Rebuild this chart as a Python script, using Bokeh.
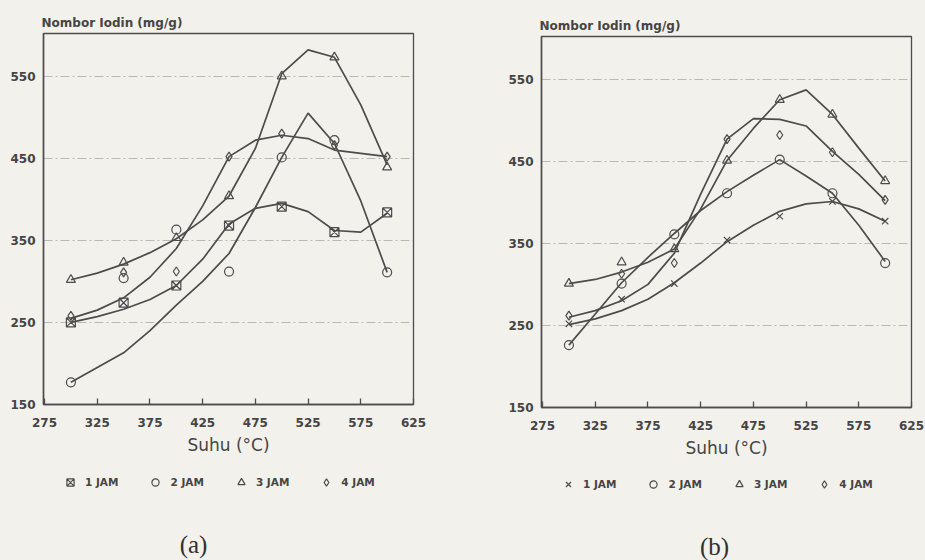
from bokeh.plotting import figure
from bokeh.layouts import row, column
from bokeh.models import Legend, LegendItem, Label, FixedTicker, Range1d
from bokeh.embed import file_html
from bokeh.resources import INLINE

# ---------------- data ----------------
temps = [300, 350, 400, 450, 500, 550, 600]
fit_temps = [300, 325, 350, 375, 400, 425, 450, 475, 500, 525, 550, 575, 600]
x_ticks = [275, 325, 375, 425, 475, 525, 575, 625]
y_ticks = [150, 250, 350, 450, 550]
grid_vals = [250, 350, 450, 550]
series_names = ["1 JAM", "2 JAM", "3 JAM", "4 JAM"]

# panel (a) measured points
a_jam1 = [250, 274, 295, 368, 391, 360, 384]
a_jam2 = [177, 304, 363, 312, 451, 472, 311]
a_jam3 = [302, 323, 353, 404, 550, 573, 439]
a_jam4 = [258, 311, 312, 452, 480, 466, 452]
# panel (a) fitted curves
a_fit1 = [250, 257, 266, 278, 295, 327, 370, 389, 395, 385, 362, 360, 383]
a_fit2 = [177, 195, 213, 240, 271, 300, 334, 390, 451, 505, 468, 398, 311]
a_fit3 = [302, 310, 321, 335, 352, 375, 404, 462, 553, 582, 573, 515, 442]
a_fit4 = [255, 265, 280, 305, 340, 392, 452, 472, 478, 474, 460, 456, 452]

# panel (b) measured points
b_jam1 = [252, 282, 301, 354, 383, 401, 377]
b_jam2 = [226, 301, 361, 411, 452, 411, 326]
b_jam3 = [301, 327, 343, 451, 525, 507, 426]
b_jam4 = [262, 313, 326, 477, 482, 461, 403]
# panel (b) fitted curves
b_fit1 = [251, 258, 268, 282, 302, 326, 352, 372, 389, 398, 401, 392, 377]
b_fit2 = [226, 264, 302, 333, 362, 390, 413, 433, 452, 432, 411, 372, 328]
b_fit3 = [301, 306, 315, 327, 343, 392, 451, 490, 525, 537, 507, 466, 426]
b_fit4 = [260, 268, 280, 300, 338, 410, 477, 502, 501, 493, 462, 434, 402]

# ---------------- style ----------------
PAPER = "#f3f1ec"
INK = "#4c4c4c"
TXT = "#454545"
FONT = "DejaVu Sans"
NAN = float("nan")


def make_panel(pts, fits, markers, width, left, right, top, bottom):
    p = figure(width=width, height=460,
               x_range=Range1d(274, 625), y_range=Range1d(150, 602),
               output_backend="svg", toolbar_location=None,
               min_border_left=left, min_border_right=right,
               min_border_top=top, min_border_bottom=bottom)
    p.background_fill_color = PAPER
    p.border_fill_color = PAPER
    p.outline_line_color = INK
    p.outline_line_width = 1.3

    p.title.text = "Nombor Iodin (mg/g)"
    p.title.align = "left"
    p.title.text_font = FONT
    p.title.text_font_size = "12px"
    p.title.text_font_style = "bold"
    p.title.text_color = TXT
    p.title.standoff = 7
    p.title.offset = -2

    p.xaxis.ticker = FixedTicker(ticks=x_ticks)
    p.yaxis.ticker = FixedTicker(ticks=y_ticks)
    for ax in (p.xaxis[0], p.yaxis[0]):
        ax.axis_line_color = INK
        ax.axis_line_width = 1.5
        ax.major_tick_line_color = INK
        ax.major_tick_line_width = 1.3
        ax.minor_tick_line_color = None
        ax.major_label_text_font = FONT
        ax.major_label_text_font_size = "12px"
        ax.major_label_text_font_style = "bold"
        ax.major_label_text_color = TXT
    p.xaxis.major_tick_in = 6
    p.xaxis.major_tick_out = 0
    p.xaxis.major_label_standoff = 13
    p.yaxis.major_tick_in = 0
    p.yaxis.major_tick_out = 0
    p.yaxis.major_label_standoff = 8
    p.xaxis.axis_label = "Suhu (°C)"
    p.xaxis.axis_label_text_font = FONT
    p.xaxis.axis_label_text_font_size = "17px"
    p.xaxis.axis_label_text_font_style = "normal"
    p.xaxis.axis_label_text_color = TXT
    p.xaxis.axis_label_standoff = 5

    p.xgrid.grid_line_color = None
    p.ygrid.ticker = FixedTicker(ticks=grid_vals)
    p.ygrid.grid_line_color = "#8a8a8a"
    p.ygrid.grid_line_alpha = 0.55
    p.ygrid.grid_line_dash = "9 3 2 3"
    p.ygrid.grid_line_width = 1

    for ys, fy, mk in zip(pts, fits, markers):
        p.line(fit_temps, fy, line_color=INK, line_width=1.7)
        p.scatter(temps, ys, marker=mk, size=9, fill_color=None,
                  line_color=INK, line_width=1.2)
    return p


def make_key(markers, tag, width, leg_x, leg_y, tag_x, tag_y):
    # screen positions are measured from the (column-aligned) frame
    k = figure(width=width, height=100, x_range=Range1d(0, 1),
               y_range=Range1d(0, 1), x_axis_type=None, y_axis_type=None,
               output_backend="svg", toolbar_location=None,
               min_border=0)
    k.background_fill_color = PAPER
    k.border_fill_color = PAPER
    k.outline_line_color = None
    k.xgrid.grid_line_color = None
    k.ygrid.grid_line_color = None
    items = []
    for name, mk in zip(series_names, markers):
        r = k.scatter(x=[NAN], y=[NAN], marker=mk, size=8, fill_color=None,
                      line_color=INK, line_width=1.2)
        items.append(LegendItem(label=name, renderers=[r]))
    leg = Legend(items=items, orientation="horizontal",
                 location=(leg_x, leg_y))
    leg.background_fill_alpha = 0
    leg.border_line_color = None
    leg.label_text_font = FONT
    leg.label_text_font_size = "10.5px"
    leg.label_text_font_style = "bold"
    leg.label_text_color = TXT
    leg.glyph_width = 18
    leg.glyph_height = 18
    leg.label_standoff = 6
    leg.spacing = 28
    leg.margin = 0
    leg.padding = 0
    k.add_layout(leg)
    k.add_layout(Label(x=tag_x, y=tag_y, x_units="screen", y_units="screen",
                       text=tag, text_font="Liberation Serif",
                       text_font_size="25px", text_color="#303030",
                       text_align="center", text_baseline="middle"))
    return k


pa = make_panel([a_jam1, a_jam2, a_jam3, a_jam4],
                [a_fit1, a_fit2, a_fit3, a_fit4],
                ["square_x", "circle", "triangle", "diamond"],
                468, 43, 55, 33, 56)
pb = make_panel([b_jam1, b_jam2, b_jam3, b_jam4],
                [b_fit1, b_fit2, b_fit3, b_fit4],
                ["x", "circle", "triangle", "diamond"],
                457, 73, 14, 36, 53)
ka = make_key(["square_x", "circle", "triangle", "diamond"], "(a)",
              468, 18, 69, 150, 16)
kb = make_key(["x", "circle", "triangle", "diamond"], "(b)",
              457, 18, 67, 173, 14)

col_a = column(pa, ka, spacing=0)
col_b = column(pb, kb, spacing=0)
col_a.styles = {"background-color": PAPER}
col_b.styles = {"background-color": PAPER}
layout = row(col_a, col_b, spacing=0)
layout.styles = {"background-color": PAPER}
open("out.html", "w").write(file_html(layout, INLINE))
